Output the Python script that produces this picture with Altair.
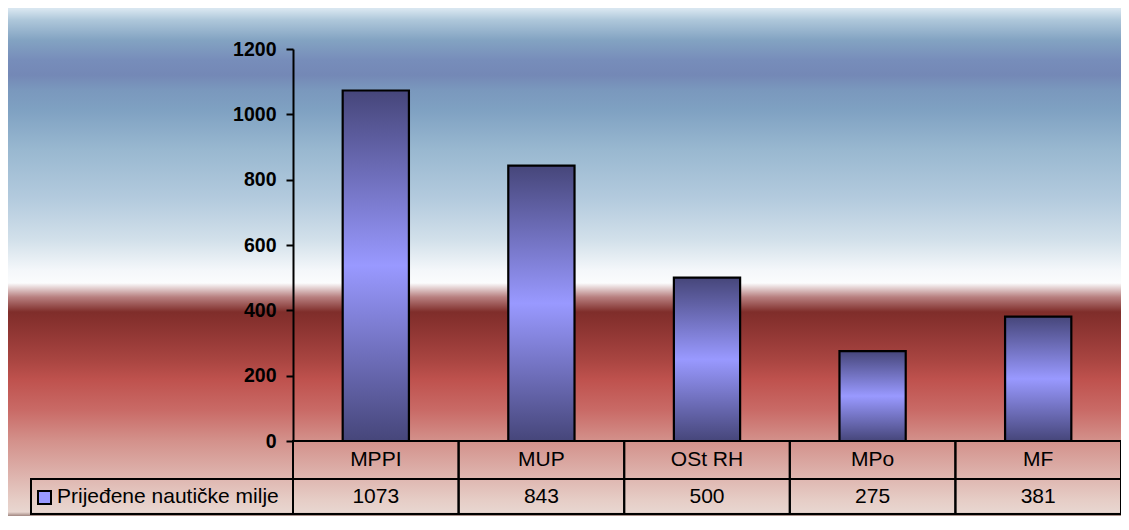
import altair as alt
import pandas as pd

# ---- data ----
categories = ["MPPI", "MUP", "OSt RH", "MPo", "MF"]
values = [1073, 843, 500, 275, 381]
series_name = "Prijeđene nautičke milje"
y_ticks = [0, 200, 400, 600, 800, 1000, 1200]

df = pd.DataFrame({"cat": categories, "value": values})

# ---- layout (pixels) ----
W, PH = 828, 392
PAD_L, PAD_T, PAD_R = 285, 41, 0
H_TOTAL = 508
PAD_B = H_TOTAL - PAD_T - PH
FONT = "Liberation Sans"
TFS = 21

# background gradient stops given by reference y position
bg_stops_ref = [
    (9, "#d8e6f0"), (20, "#aec7da"), (40, "#83a3c2"), (60, "#778dba"),
    (75, "#7488b6"), (90, "#7a98bd"), (110, "#7fa1c2"), (150, "#99b8d0"),
    (200, "#b4cbde"), (240, "#d2e0ea"), (270, "#f4f7fa"), (283, "#fbfcfd"),
    (297, "#b88080"), (312, "#7f2d2a"), (330, "#8e3532"), (360, "#a94541"),
    (380, "#bf524e"), (410, "#c96a66"), (440, "#d3908a"), (470, "#dcaea8"),
    (500, "#e6cdc6"), (512, "#e8d6d0"),
]
stops = [alt.GradientStop(offset=max(0.0, min(1.0, (y - 8) / H_TOTAL)), color=c)
         for y, c in bg_stops_ref]
stops.append(alt.GradientStop(offset=1.0, color="#a08680"))
bg_grad = alt.LinearGradient(gradient="linear", stops=stops, x1=0, x2=0, y1=0, y2=1)

bar_grad = alt.LinearGradient(
    gradient="linear", x1=0, x2=0, y1=0, y2=1,
    stops=[
        alt.GradientStop(offset=0.0, color="#46467a"),
        alt.GradientStop(offset=0.5, color="#9999ff"),
        alt.GradientStop(offset=1.0, color="#46467a"),
    ],
)

xscale = alt.Scale(domain=categories, paddingInner=0, paddingOuter=0)
x_enc = alt.X("cat:N", sort=categories, scale=xscale, axis=None)

background = alt.Chart(alt.Data(values=[{}])).mark_rect(fill=bg_grad).encode(
    x=alt.value(-PAD_L), x2=alt.value(W + PAD_R),
    y=alt.value(-PAD_T), y2=alt.value(PH + PAD_B),
)

bars = alt.Chart(df).mark_bar(
    fill=bar_grad, stroke="black", strokeWidth=2.2, width=alt.RelativeBandSize(0.4)
).encode(
    x=x_enc,
    y=alt.Y("value:Q", scale=alt.Scale(domain=[0, 1200], nice=False),
            axis=alt.Axis(values=y_ticks, format="d", title=None, grid=False, zindex=1,
                          labelFont=FONT, labelFontWeight="bold", labelFontSize=19.5,
                          labelColor="black", labelPadding=10, tickSize=7,
                          tickWidth=2, tickColor="black", domainColor="black",
                          domainWidth=2)),
)

head_cells = alt.Chart(df).mark_rect(fill="transparent", stroke="black", strokeWidth=2).encode(
    x=x_enc, y=alt.value(PH), y2=alt.value(430),
)
val_cells = alt.Chart(df).mark_rect(fill="transparent", stroke="black", strokeWidth=2).encode(
    x=x_enc, y=alt.value(430), y2=alt.value(465),
)
head_text = alt.Chart(df).mark_text(font=FONT, fontSize=TFS, color="black", baseline="middle").encode(
    x=x_enc, y=alt.value(411), text="cat:N",
)
val_text = alt.Chart(df).mark_text(font=FONT, fontSize=TFS, color="black", baseline="middle").encode(
    x=x_enc, y=alt.value(448), text="value:Q",
)

legend_df = pd.DataFrame({"name": [series_name]})
legend_cell = alt.Chart(legend_df).mark_rect(fill="transparent", stroke="black", strokeWidth=2).encode(
    x=alt.value(-262), x2=alt.value(0), y=alt.value(430), y2=alt.value(465),
)
legend_swatch = alt.Chart(legend_df).mark_rect(fill="#9999ff", stroke="black", strokeWidth=2).encode(
    x=alt.value(-255), x2=alt.value(-242), y=alt.value(442), y2=alt.value(455),
)
legend_text = alt.Chart(legend_df).mark_text(font=FONT, fontSize=TFS, color="black",
                                             align="left", baseline="middle").encode(
    x=alt.value(-236), y=alt.value(448), text="name:N",
)

chart = alt.layer(
    background, bars, head_cells, val_cells, head_text, val_text,
    legend_cell, legend_swatch, legend_text,
).properties(
    width=W, height=PH,
    autosize=alt.AutoSizeParams(type="none"),
    padding={"left": PAD_L, "top": PAD_T, "right": PAD_R, "bottom": PAD_B},
).configure_view(strokeWidth=0)

chart.save("out.html", embed_options={"renderer": "svg", "actions": False})
